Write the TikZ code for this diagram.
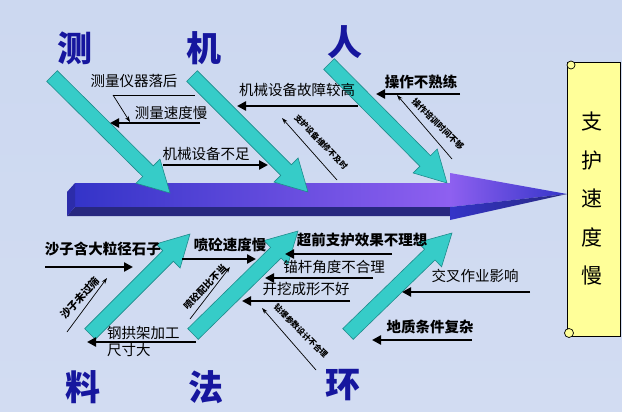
\documentclass[tikz,border=0pt]{standalone}
\usepackage{fontspec}
\setmainfont{Noto Sans CJK SC}
\usetikzlibrary{arrows.meta,calc}
\definecolor{bgtop}{RGB}{204,216,240}
\definecolor{bgmid}{RGB}{226,234,250}
\definecolor{bgbot}{RGB}{210,220,242}
\definecolor{catblue}{RGB}{22,22,158}
\definecolor{spineL}{RGB}{52,52,200}
\definecolor{spineR}{RGB}{142,96,240}
\definecolor{spineD}{RGB}{40,40,128}
\definecolor{teal1}{RGB}{54,204,200}
\definecolor{teal2}{RGB}{30,140,140}
\definecolor{scroll}{RGB}{255,255,153}
% fish bone arrow from tail #1 to tip #2
\newcommand\fisharrow[2]{%
  \path ($(#2)!31pt!(#1)$) coordinate (h);
  \draw[bone] ($(#1)!7.5pt!90:(#2)$) -- ($(h)!7.5pt!90:(#2)$) -- ($(h)!17pt!90:(#2)$)
    -- (#2) -- ($(h)!17pt!-90:(#2)$) -- ($(h)!7.5pt!-90:(#2)$) -- ($(#1)!7.5pt!-90:(#2)$) -- cycle;
}
\begin{document}
\begin{tikzpicture}[x=1pt,y=-1pt,
  cat/.style={font=\fontsize{35}{35}\selectfont\bfseries,text=catblue},
  lab/.style={font=\fontsize{14.5}{17}\selectfont,inner sep=0pt},
  blab/.style={font=\fontsize{14.5}{17}\selectfont\bfseries,inner sep=0pt},
  smalltxt/.style={font=\fontsize{8}{8}\selectfont\bfseries,inner sep=0pt},
  cause/.style={line width=2.4pt,-{Triangle[length=9pt,width=9pt]}},
  subcause/.style={line width=0.7pt,-{Stealth[length=6pt,width=4pt]}},
  bone/.style={fill=teal1,draw=teal2,line width=0.6pt},
  scrollbox/.style={fill=scroll,draw=black,line width=0.7pt}]
\useasboundingbox (0,0) rectangle (622,412);
\shade[top color=bgtop,middle color=bgmid,bottom color=bgbot] (0,0) rectangle (622,412);

% spine
\shade[left color=spineL,right color=spineR] (75,183) rectangle (450,207);
\fill[spineD] (75,207) -- (450,207) -- (450,216) -- (67,216) -- cycle;
\fill[spineL!85!black] (67,192) -- (75,183) -- (75,207) -- (67,216) -- cycle;
\shade[left color=spineR,right color=spineL] (450,173) -- (567,194) -- (450,207) -- cycle;
\shade[left color=spineL,right color=spineD] (450,207) -- (567,194) -- (450,220) -- cycle;

% effect
\draw[scrollbox] (567,62) rectangle (620,336);
\draw[scrollbox] (571,65) circle (4);
\draw[scrollbox] (569,333) circle (4.5);
\node[font=\fontsize{21}{38.5}\selectfont,align=center] (effect) at (592,199) {支\\护\\速\\度\\慢};

% categories
\node[cat] (ce) at (75,48) {测};
\node[cat] (ji) at (204,48) {机};
\node[cat] (ren) at (345,42) {人};
\node[cat] (liao) at (83,387) {料};
\node[cat] (fa) at (206,387) {法};
\node[cat] (huan) at (343,385) {环};

% bones
\coordinate (b1) at (52,76);   \coordinate (t1) at (170,193);
\coordinate (b2) at (192,76);  \coordinate (t2) at (308,192);
\coordinate (b3) at (329,64);  \coordinate (t3) at (447,183);
\coordinate (b4) at (90,334);  \coordinate (t4) at (190,234);
\coordinate (b5) at (193,334); \coordinate (t5) at (298,231);
\coordinate (b6) at (348,334); \coordinate (t6) at (452,233);
\fisharrow{b1}{t1}
\fisharrow{b2}{t2}
\fisharrow{b3}{t3}
\fisharrow{b4}{t4}
\fisharrow{b5}{t5}
\fisharrow{b6}{t6}

% causes, top
\node[lab] (c1) at (134,81) {测量仪器落后};
\node[lab] (c2) at (171,113) {测量速度慢};
\node[lab] (c3) at (206,154) {机械设备不足};
\node[lab] (c4) at (297,90) {机械设备故障较高};
\node[blab] (c5) at (421,82) {操作不熟练};
\coordinate (c1a) at (113,95);  \coordinate (c1b) at (195,95);
\coordinate (c1c) at (130,122);
\coordinate (c2a) at (200,123); \coordinate (c2b) at (110,123);
\coordinate (c3a) at (163,165); \coordinate (c3b) at (268,165);
\coordinate (c4a) at (358,106); \coordinate (c4b) at (237,106);
\coordinate (c5a) at (460,94);  \coordinate (c5b) at (376,94);
\draw[line width=0.7pt] (c1a) -- (c1b);
\draw[subcause] (c1a) -- (c1c);
\draw[cause] (c2a) -- (c2b);
\draw[cause] (c3a) -- (c3b);
\draw[cause] (c4a) -- (c4b);
\draw[cause] (c5a) -- (c5b);
\coordinate (s1a) at (337,180); \coordinate (s1b) at (282,118);
\coordinate (s2a) at (452,159); \coordinate (s2b) at (397,95);
\draw[subcause] (s1a) -- (s1b);
\draw[subcause] (s2a) -- (s2b);
\node[smalltxt,rotate=-46,font=\fontsize{8}{8}\selectfont\bfseries] (s1) at (321,142) {支护设备维修不及时};
\node[smalltxt,rotate=-44,font=\fontsize{8.5}{8}\selectfont\bfseries] (s2) at (438,124) {操作培训时间不够};

% causes, bottom
\node[blab] (d1) at (103,249) {沙子含大粒径石子};
\node[blab] (d2) at (230,245) {喷砼速度慢};
\node[lab,align=left,anchor=west] (d3) at (107,342) {钢拱架加工\\尺寸大};
\node[blab] (d4) at (362,240) {超前支护效果不理想};
\node[lab] (d5) at (334,267) {锚杆角度不合理};
\node[lab] (d6) at (306,289) {开挖成形不好};
\node[lab] (d7) at (475,276) {交叉作业影响};
\node[blab] (d8) at (430,327) {地质条件复杂};
\coordinate (d1a) at (45,267);  \coordinate (d1b) at (133,267);
\coordinate (d2a) at (182,259); \coordinate (d2b) at (256,259);
\coordinate (d3a) at (196,342); \coordinate (d3b) at (87,342);
\coordinate (d4a) at (392,254); \coordinate (d4b) at (285,254);
\coordinate (d5a) at (373,278); \coordinate (d5b) at (265,278);
\coordinate (d6a) at (350,301); \coordinate (d6b) at (242,301);
\coordinate (d7a) at (530,292); \coordinate (d7b) at (402,292);
\coordinate (d8a) at (472,340); \coordinate (d8b) at (372,340);
\draw[cause] (d1a) -- (d1b);
\draw[cause] (d2a) -- (d2b);
\draw[cause] (d3a) -- (d3b);
\draw[cause] (d4a) -- (d4b);
\draw[cause] (d5a) -- (d5b);
\draw[cause] (d6a) -- (d6b);
\draw[cause] (d7a) -- (d7b);
\draw[cause] (d8a) -- (d8b);
\coordinate (s3a) at (67,332);  \coordinate (s3b) at (107,278);
\coordinate (s4a) at (190,319); \coordinate (s4b) at (230,267);
\coordinate (s5a) at (316,370); \coordinate (s5b) at (262,308);
\draw[subcause] (s3a) -- (s3b);
\draw[subcause] (s4a) -- (s4b);
\draw[subcause] (s5a) -- (s5b);
\node[smalltxt,rotate=47,font=\fontsize{10.5}{10}\selectfont\bfseries] (s3) at (80,298) {沙子未过筛};
\node[smalltxt,rotate=46,font=\fontsize{9.5}{9}\selectfont\bfseries] (s4) at (205,287) {喷砼配比不当};
\node[smalltxt,rotate=-45,font=\fontsize{8}{8}\selectfont\bfseries] (s5) at (301,331) {钻爆参数设计不合理};
\end{tikzpicture}
\end{document}
